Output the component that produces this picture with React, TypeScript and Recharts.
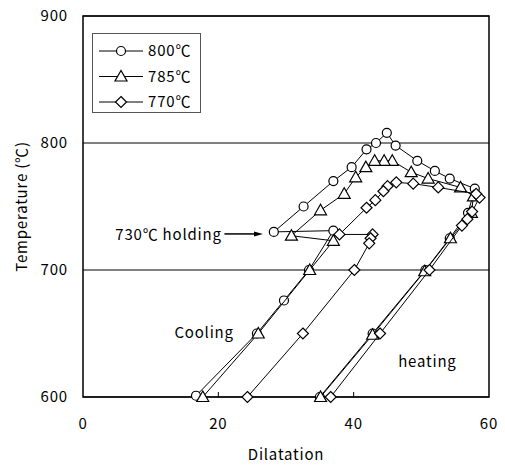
import React from 'react';
import {
  ScatterChart,
  Scatter,
  XAxis,
  YAxis,
  CartesianGrid,
  Legend,
  ReferenceArea,
  ReferenceLine,
  ReferenceDot,
} from 'recharts';

const FONT = '"Noto Sans CJK JP", "Noto Sans", sans-serif';

// each run: heating leg -> peak -> cooling -> 730℃ hold -> final cooling
const DIL_800 = [35.0, 42.8, 50.6, 54.2, 56.9, 57.9, 54.2, 52.0, 49.4, 46.2, 44.9, 43.3, 41.9, 39.7, 37.0, 32.6, 28.2, 37.0, 33.4, 29.7, 25.7, 16.7];
const TEMP_800 = [600, 650, 700, 725, 745, 764, 772, 778, 786, 798, 808, 800, 795, 781, 770, 750, 730, 731, 700, 676, 650, 601];

const DIL_785 = [35.1, 42.8, 50.5, 54.3, 57.4, 57.7, 55.8, 51.0, 48.5, 45.7, 44.5, 43.1, 41.8, 40.3, 38.6, 35.1, 30.8, 37.0, 33.5, 25.9, 17.7];
const TEMP_785 = [600, 649, 699, 725, 745, 758, 765, 772, 777, 786, 786, 786, 781, 773, 760, 747, 727, 723, 700, 650, 600];

const DIL_770 = [36.6, 43.9, 51.2, 56.0, 56.8, 57.5, 58.6, 58.1, 52.5, 48.8, 46.3, 45.0, 44.4, 43.2, 41.9, 37.9, 42.8, 42.5, 42.3, 40.1, 32.5, 24.3];
const TEMP_770 = [600, 650, 700, 735, 740, 746, 757, 760, 765, 768, 769, 766, 762, 755, 749, 728, 728, 725, 721, 700, 650, 600];

const X_TICKS = [0, 20, 40, 60];
const Y_TICKS = [600, 700, 800, 900];

const zip = (xs: number[], ys: number[]) => xs.map((x, i) => ({ x, y: ys[i] }));

type MarkProps = { cx?: number; cy?: number };

const CircleMark = ({ cx = 0, cy = 0 }: MarkProps) => (
  <circle cx={cx} cy={cy} r={4.5} fill="#fff" stroke="#000" strokeWidth={1.2} />
);

const TriangleMark = ({ cx = 0, cy = 0 }: MarkProps) => (
  <polygon
    points={`${cx},${cy - 6} ${cx - 6},${cy + 4.5} ${cx + 6},${cy + 4.5}`}
    fill="#fff"
    stroke="#000"
    strokeWidth={1.2}
  />
);

const DiamondMark = ({ cx = 0, cy = 0 }: MarkProps) => (
  <polygon
    points={`${cx},${cy - 5.5} ${cx + 5.5},${cy} ${cx},${cy + 5.5} ${cx - 5.5},${cy}`}
    fill="#fff"
    stroke="#000"
    strokeWidth={1.2}
  />
);

const SERIES = [
  { name: '800℃', data: zip(DIL_800, TEMP_800), Mark: CircleMark },
  { name: '785℃', data: zip(DIL_785, TEMP_785), Mark: TriangleMark },
  { name: '770℃', data: zip(DIL_770, TEMP_770), Mark: DiamondMark },
];

const TICK_GAP = 21;

function XTick({ x, y, payload }: any) {
  const inner = payload.value > 0 && payload.value < 60;
  return (
    <g>
      {inner && (
        <line x1={x} x2={x} y1={y - TICK_GAP} y2={y - TICK_GAP - 5} stroke="#000" />
      )}
      <text x={x} y={y} dy="0.71em" textAnchor="middle" fontSize={15} letterSpacing={0.8} fill="#000">
        {payload.value}
      </text>
    </g>
  );
}

function LegendBox() {
  return (
    <svg width={109} height={80} style={{ display: 'block' }}>
      <rect x={0.5} y={0.5} width={108} height={79} fill="#fff" stroke="#555" />
      {SERIES.map((s, i) => {
        const y = 18 + i * 25.5;
        return (
          <g key={s.name}>
            <line x1={7} x2={51} y1={y} y2={y} stroke="#000" />
            <s.Mark cx={29} cy={y} />
            <text x={56} y={y} dy="0.36em" fontSize={15} letterSpacing={0.8} fill="#000">
              {s.name}
            </text>
          </g>
        );
      })}
    </svg>
  );
}

const note = (text: string, anchor: 'start' | 'middle' | 'end') => (p: any) => (
  <text
    x={p.cx}
    y={p.cy}
    dy="0.36em"
    textAnchor={anchor}
    fontSize={15}
    letterSpacing={0.8}
    fill="#000"
  >
    {text}
  </text>
);

const arrowHead = (p: any) => (
  <polygon points={`${p.cx},${p.cy} ${p.cx - 9},${p.cy - 2.5} ${p.cx - 9},${p.cy + 2.5}`} fill="#000" />
);

export default function App() {
  return (
    <div
      style={{
        position: 'absolute',
        left: 0,
        top: 0,
        width: 505,
        height: 465,
        background: '#fff',
        fontFamily: FONT,
      }}
    >
      <ScatterChart width={505} height={465} margin={{ top: 16, right: 16, bottom: 0, left: 0 }}>
        <CartesianGrid horizontal vertical={false} stroke="#000" />
        <XAxis
          type="number"
          dataKey="x"
          domain={[0, 60]}
          ticks={X_TICKS}
          height={68}
          axisLine={false}
          tickLine={false}
          tickSize={0}
          tickMargin={TICK_GAP}
          tick={<XTick />}
          label={{
            value: 'Dilatation',
            position: 'insideBottom',
            offset: 5,
            style: { fill: '#000', fontSize: 15, letterSpacing: 0.8 },
          }}
        />
        <YAxis
          type="number"
          dataKey="y"
          domain={[600, 900]}
          ticks={Y_TICKS}
          width={83}
          axisLine={false}
          tickLine={false}
          tickSize={0}
          tickMargin={15}
          tick={{ fill: '#000', fontSize: 15, letterSpacing: 0.8 }}
          label={{
            value: 'Temperature (℃)',
            angle: -90,
            position: 'insideLeft',
            offset: 22,
            style: { textAnchor: 'middle', fill: '#000', fontSize: 15, letterSpacing: 0.8 },
          }}
        />
        <ReferenceArea x1={0} x2={60} y1={600} y2={900} fill="none" stroke="#000" strokeWidth={1.5} />
        {SERIES.map((s) => (
          <Scatter
            key={s.name}
            name={s.name}
            data={s.data}
            shape={s.Mark}
            fill="#fff"
            stroke="#000"
            line={{ stroke: '#000', strokeWidth: 1 }}
            lineType="joint"
            isAnimationActive={false}
          />
        ))}
        <ReferenceLine
          segment={[
            { x: 20.9, y: 728.4 },
            { x: 25.5, y: 728.4 },
          ]}
          stroke="#000"
          strokeWidth={1.5}
        />
        <ReferenceDot x={26.6} y={728.4} r={0} shape={arrowHead} />
        <ReferenceDot x={20.5} y={727.5} r={0} shape={note('730℃ holding', 'end')} />
        <ReferenceDot x={17.9} y={651} r={0} shape={note('Cooling', 'middle')} />
        <ReferenceDot x={50.9} y={628} r={0} shape={note('heating', 'middle')} />
        <Legend
          content={<LegendBox />}
          layout="vertical"
          align="center"
          verticalAlign="middle"
          wrapperStyle={{ left: 92, top: 33, width: 109, height: 80 }}
        />
      </ScatterChart>
    </div>
  );
}
